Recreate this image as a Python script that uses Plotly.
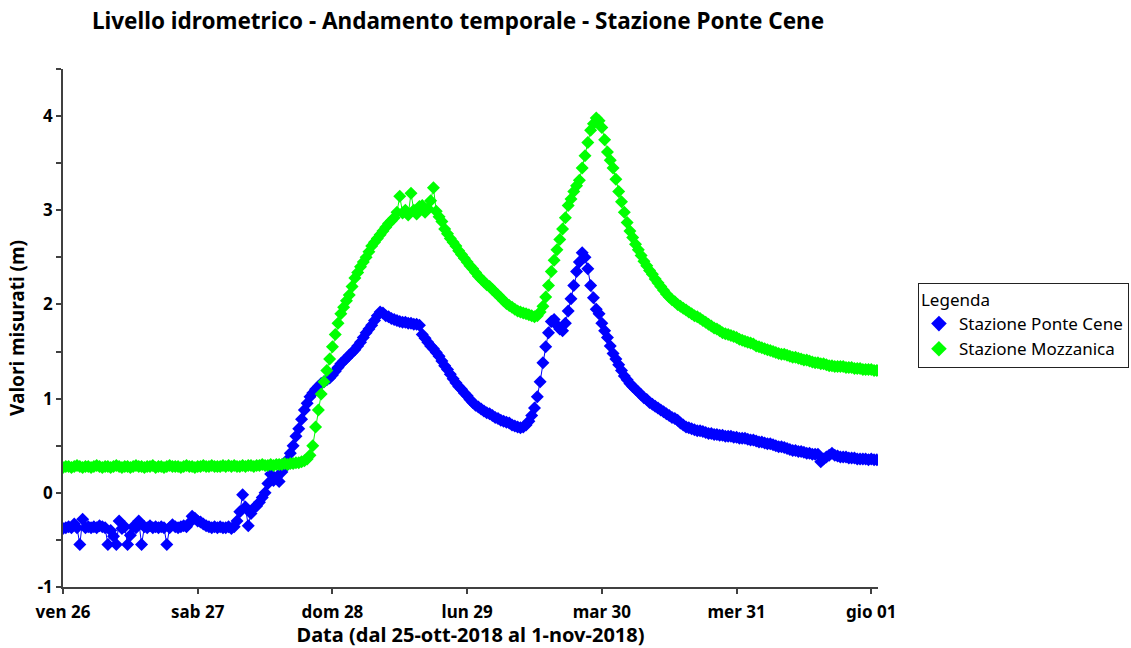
import pandas as pd
import plotly.graph_objects as go

# Half-hourly readings starting 26 Oct 2018 00:00 (metres)
start_time = "2018-10-26 00:00"

ponte_cene = [
    -0.38, -0.37, -0.36, -0.37, -0.33, -0.37, -0.55, -0.28, -0.37, -0.36,
    -0.37, -0.36, -0.37, -0.35, -0.36, -0.37, -0.55, -0.40, -0.46, -0.55,
    -0.30, -0.38, -0.36, -0.55, -0.45, -0.36, -0.37, -0.30, -0.55, -0.36,
    -0.37, -0.35, -0.37, -0.36, -0.37, -0.36, -0.37, -0.55, -0.37, -0.34,
    -0.36, -0.37, -0.36, -0.35, -0.36, -0.32, -0.25, -0.27, -0.30, -0.31,
    -0.33, -0.35, -0.36, -0.37, -0.36, -0.37, -0.36, -0.37, -0.37, -0.36,
    -0.38, -0.36, -0.30, -0.20, -0.02, -0.15, -0.35, -0.22, -0.16, -0.14,
    -0.10, -0.05, 0.00, 0.10, 0.20, 0.13, 0.16, 0.12, 0.22, 0.27,
    0.35, 0.42, 0.50, 0.60, 0.68, 0.78, 0.88, 0.95, 1.02, 1.06,
    1.10, 1.13, 1.16, 1.18, 1.20, 1.22, 1.25, 1.29, 1.33, 1.37,
    1.40, 1.43, 1.46, 1.49, 1.52, 1.56, 1.60, 1.65, 1.70, 1.74,
    1.78, 1.83, 1.88, 1.92, 1.91, 1.88, 1.87, 1.85, 1.84, 1.83,
    1.82, 1.81, 1.81, 1.80, 1.80, 1.79, 1.79, 1.78, 1.68, 1.64,
    1.60, 1.56, 1.53, 1.49, 1.45, 1.40, 1.35, 1.31, 1.26, 1.21,
    1.17, 1.13, 1.10, 1.06, 1.03, 0.99, 0.96, 0.93, 0.91, 0.89,
    0.87, 0.85, 0.84, 0.82, 0.80, 0.79, 0.77, 0.76, 0.75, 0.74,
    0.72, 0.71, 0.70, 0.69, 0.70, 0.72, 0.76, 0.82, 0.90, 1.02,
    1.18, 1.38, 1.55, 1.70, 1.82, 1.84, 1.78, 1.74, 1.72, 1.80,
    1.93, 2.06, 2.20, 2.35, 2.45, 2.55, 2.50, 2.38, 2.20, 2.07,
    1.95, 1.90, 1.80, 1.72, 1.65, 1.56, 1.48, 1.42, 1.36, 1.30,
    1.24, 1.20, 1.16, 1.13, 1.10, 1.07, 1.04, 1.01, 0.99, 0.96,
    0.94, 0.92, 0.90, 0.88, 0.86, 0.84, 0.82, 0.80, 0.79, 0.77,
    0.74, 0.72, 0.70, 0.69, 0.68, 0.67, 0.66, 0.66, 0.65, 0.64,
    0.63, 0.63, 0.62, 0.62, 0.61, 0.61, 0.60, 0.60, 0.60, 0.59,
    0.59, 0.58, 0.58, 0.58, 0.57, 0.56, 0.56, 0.55, 0.54, 0.54,
    0.53, 0.52, 0.52, 0.51, 0.50, 0.49, 0.49, 0.48, 0.47, 0.46,
    0.45, 0.45, 0.44, 0.44, 0.43, 0.42, 0.42, 0.41, 0.41, 0.41,
    0.33, 0.36, 0.38, 0.40, 0.42, 0.40, 0.39, 0.38, 0.38, 0.38,
    0.37, 0.37, 0.37, 0.36, 0.36, 0.36, 0.36, 0.35, 0.36, 0.35,
    0.35,
]

mozzanica = [
    0.27, 0.28, 0.28, 0.27, 0.28, 0.29, 0.28, 0.27, 0.28, 0.28,
    0.27, 0.28, 0.29, 0.28, 0.27, 0.28, 0.28, 0.27, 0.28, 0.29,
    0.28, 0.27, 0.28, 0.28, 0.27, 0.28, 0.29, 0.28, 0.28, 0.27,
    0.28, 0.28, 0.29, 0.27, 0.28, 0.28, 0.27, 0.28, 0.29, 0.28,
    0.28, 0.28, 0.27, 0.28, 0.29, 0.28, 0.28, 0.27, 0.28, 0.28,
    0.29, 0.28, 0.28, 0.29, 0.28, 0.28, 0.28, 0.29, 0.28, 0.29,
    0.28, 0.29, 0.28, 0.28, 0.29, 0.28, 0.29, 0.29, 0.28, 0.29,
    0.29, 0.30, 0.29, 0.29, 0.30, 0.29, 0.30, 0.30, 0.30, 0.31,
    0.30, 0.31, 0.31, 0.32, 0.32, 0.33, 0.34, 0.36, 0.40, 0.50,
    0.70, 0.88, 1.05, 1.18, 1.30, 1.42, 1.55, 1.68, 1.80, 1.90,
    1.97, 2.04, 2.10, 2.19, 2.28, 2.34, 2.40, 2.45, 2.50, 2.56,
    2.62, 2.66, 2.70, 2.74, 2.78, 2.82, 2.86, 2.89, 2.92, 2.98,
    3.15, 2.97, 3.00, 2.95, 3.18, 3.00, 2.96, 3.04, 3.05, 2.98,
    3.02, 3.10, 3.24, 2.99, 2.93, 2.88, 2.80, 2.75, 2.70, 2.66,
    2.62, 2.57, 2.53, 2.49, 2.45, 2.41, 2.38, 2.34, 2.30, 2.27,
    2.24, 2.21, 2.19, 2.16, 2.13, 2.10, 2.07, 2.04, 2.01, 1.99,
    1.97, 1.95, 1.93, 1.92, 1.91, 1.90, 1.89, 1.88, 1.87, 1.88,
    1.92, 1.98, 2.08, 2.20, 2.35, 2.47, 2.58, 2.69, 2.80, 2.92,
    3.05, 3.12, 3.20, 3.26, 3.32, 3.45, 3.58, 3.72, 3.85, 3.92,
    3.98, 3.95, 3.88, 3.75, 3.62, 3.53, 3.45, 3.33, 3.20, 3.09,
    2.98, 2.87, 2.78, 2.71, 2.64, 2.58, 2.52, 2.46, 2.41, 2.36,
    2.32, 2.27, 2.23, 2.19, 2.15, 2.11, 2.08, 2.05, 2.03, 2.00,
    1.98, 1.96, 1.94, 1.92, 1.90, 1.88, 1.87, 1.85, 1.83, 1.81,
    1.79, 1.77, 1.75, 1.74, 1.72, 1.70, 1.69, 1.68, 1.67, 1.66,
    1.65, 1.63, 1.62, 1.61, 1.60, 1.59, 1.58, 1.56, 1.55, 1.54,
    1.53, 1.52, 1.51, 1.50, 1.49, 1.48, 1.47, 1.47, 1.46, 1.45,
    1.44, 1.44, 1.43, 1.42, 1.41, 1.41, 1.40, 1.39, 1.38, 1.38,
    1.37, 1.37, 1.36, 1.35, 1.35, 1.34, 1.34, 1.34, 1.34, 1.33,
    1.33, 1.33, 1.32, 1.32, 1.32, 1.31, 1.31, 1.31, 1.31, 1.30,
    1.30,
]

day_ticks = ["2018-10-26", "2018-10-27", "2018-10-28", "2018-10-29",
             "2018-10-30", "2018-10-31", "2018-11-01"]
day_labels = ["ven 26", "sab 27", "dom 28", "lun 29", "mar 30", "mer 31", "gio 01"]
level_ticks = [-1, 0, 1, 2, 3, 4]
level_labels = ["-1", "0", "1", "2", "3", "4"]

times = pd.date_range(start_time, periods=len(ponte_cene), freq="30min")

x_range = ["2018-10-26 00:00", "2018-11-01 01:12"]
y_range = [-1, 4.5]

BLUE = "#0000ff"
GREEN = "#00ff00"
AXIS = "#404040"
FONT = "Noto Sans"

series = [("Stazione Ponte Cene", ponte_cene, BLUE),
          ("Stazione Mozzanica", mozzanica, GREEN)]

fig = go.Figure()
for name, values, color in series:
    # thin connecting line
    fig.add_trace(go.Scatter(
        x=times, y=values, name=name, legendgroup=name, showlegend=False,
        mode="lines", line=dict(color=color, width=1), hoverinfo="skip",
    ))
    # diamond markers at each reading
    fig.add_trace(go.Scatter(
        x=times, y=values, name=name, legendgroup=name,
        mode="markers",
        marker=dict(symbol="diamond", size=10, color=color),
    ))

tick_font = dict(family=FONT, size=17, color="#000", weight="bold")

fig.update_layout(
    width=1131, height=648,
    margin=dict(l=63, r=253, t=69, b=61, autoexpand=False),
    paper_bgcolor="white", plot_bgcolor="white",
    font=dict(family=FONT, color="#000"),
    title=dict(
        text="Livello idrometrico - Andamento temporale - Stazione Ponte Cene",
        x=0.405, xanchor="center", y=0.967, yanchor="middle",
        font=dict(family=FONT, size=22.5, weight="bold", color="#000"),
    ),
    showlegend=True,
    legend=dict(
        x=1.049, xref="paper", xanchor="left", y=0.587, yanchor="top",
        bordercolor="#222", borderwidth=1, bgcolor="white",
        title=dict(text="Legenda", font=dict(family=FONT, size=17)),
        font=dict(family=FONT, size=17, color="#000"),
        tracegroupgap=0, itemsizing="constant",
    ),
    xaxis=dict(
        type="date", range=x_range,
        tickvals=day_ticks, ticktext=day_labels,
        ticks="outside", ticklen=5, tickwidth=1.5, tickcolor=AXIS,
        ticklabelstandoff=4,
        showline=True, linecolor=AXIS, linewidth=1.5,
        showgrid=False, zeroline=False,
        tickfont=tick_font,
        title=dict(text="Data (dal 25-ott-2018 al 1-nov-2018)", standoff=2,
                   font=dict(family=FONT, size=20, weight="bold", color="#000")),
    ),
    yaxis=dict(
        range=y_range, tickvals=level_ticks, ticktext=level_labels,
        ticks="outside", ticklen=5, tickwidth=1.5, tickcolor=AXIS,
        minor=dict(dtick=0.5, tick0=0, ticks="outside", ticklen=5,
                   tickwidth=1.5, tickcolor=AXIS, showgrid=False),
        showline=True, linecolor=AXIS, linewidth=1.5,
        showgrid=False, zeroline=False,
        tickfont=tick_font,
        title=dict(text="Valori misurati (m)", standoff=8,
                   font=dict(family=FONT, size=19, weight="bold", color="#000")),
    ),
    # companion axes supply the inner half of each crossing tick mark
    xaxis2=dict(
        type="date", range=x_range, overlaying="x",
        tickvals=day_ticks, ticks="inside", ticklen=5, tickwidth=1.5,
        tickcolor=AXIS, showticklabels=False, showline=False,
        showgrid=False, zeroline=False,
    ),
    yaxis2=dict(
        range=y_range, overlaying="y", dtick=0.5, tick0=0,
        ticks="inside", ticklen=5, tickwidth=1.5, tickcolor=AXIS,
        showticklabels=False, showline=False,
        showgrid=False, zeroline=False,
    ),
)

fig.write_html("out.html")
